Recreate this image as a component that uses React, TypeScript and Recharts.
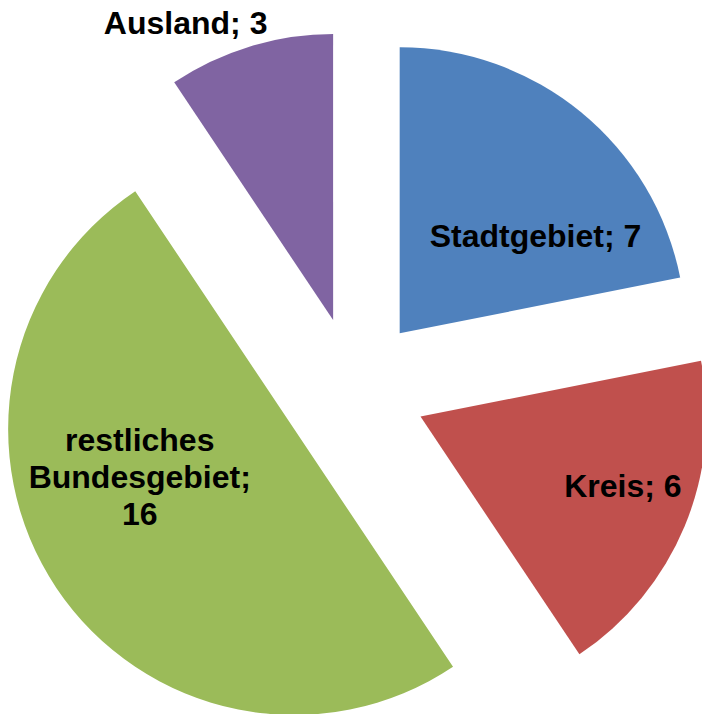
import { PieChart, Pie, Cell, Sector } from 'recharts'

const NAMES = ['Stadtgebiet', 'Kreis', 'restliches Bundesgebiet', 'Ausland']
const VALUES = [7, 6, 16, 3]
const COLORS = ['#4F81BD', '#C0504D', '#9BBB59', '#8064A2']

// label placement: fraction of radius, angle shift (deg, clockwise) from slice middle
const LABEL_R = [0.83, 1.0, 0.81, 1.41]
const LABEL_SHIFT = [10.5, -2.6, 11.4, -7.8]

const EXPLODE = 72
const RAD = Math.PI / 180

const data = NAMES.map((name, i) => ({ name, value: VALUES[i] }))

const ExplodedSlice = (props: any) => {
  const { cx, cy, midAngle, innerRadius, outerRadius, startAngle, endAngle, fill } = props
  const dx = EXPLODE * Math.cos(-midAngle * RAD)
  const dy = EXPLODE * Math.sin(-midAngle * RAD)
  return (
    <Sector cx={cx + dx} cy={cy + dy} innerRadius={innerRadius} outerRadius={outerRadius}
      startAngle={startAngle} endAngle={endAngle} fill={fill} stroke="none" />
  )
}

const renderLabel = (props: any) => {
  const { cx, cy, midAngle, outerRadius, index, name, value } = props
  const a = midAngle - LABEL_SHIFT[index]
  const r = outerRadius * LABEL_R[index]
  const x = cx + r * Math.cos(-a * RAD)
  const y = cy + r * Math.sin(-a * RAD)
  const words = String(name).split(' ')
  const lines = words.length > 1
    ? [...words.slice(0, -1), words[words.length - 1] + ';', String(value)]
    : [`${name}; ${value}`]
  const lh = 37
  const top = y - ((lines.length - 1) * lh) / 2
  return (
    <text x={x} y={top} textAnchor="middle" dominantBaseline="central" fill="#000"
      style={{ fontFamily: 'Liberation Sans, Arial, sans-serif', fontWeight: 'bold', fontSize: 32 }}>
      {lines.map((l, i) => <tspan key={i} x={x} dy={i === 0 ? 0 : lh}>{l}</tspan>)}
    </text>
  )
}

export default function App() {
  return (
    <div style={{ position: 'absolute', left: 0, top: 0, width: 702, height: 714, background: '#fff' }}>
      <PieChart width={702} height={714}>
        <Pie data={data} dataKey="value" nameKey="name" cx={349} cy={384} outerRadius={286}
          startAngle={90} endAngle={-270} stroke="none" isAnimationActive={false}
          shape={ExplodedSlice} label={renderLabel} labelLine={false}>
          {data.map((_, i) => <Cell key={i} fill={COLORS[i]} />)}
        </Pie>
      </PieChart>
    </div>
  )
}
